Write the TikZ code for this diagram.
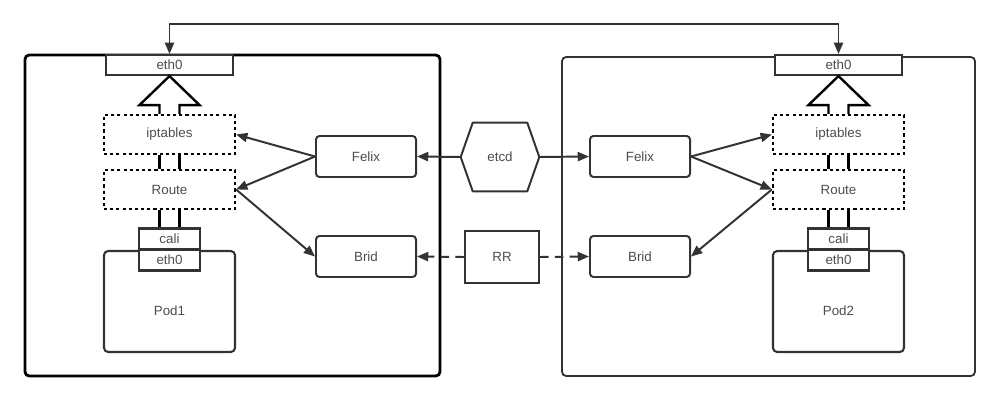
\documentclass[tikz,border=0pt]{standalone}
\usepackage{fontspec}
\setmainfont{Liberation Sans}
\usetikzlibrary{calc,positioning,arrows.meta}
\definecolor{linegray}{HTML}{333333}
\definecolor{textgray}{HTML}{4D4D4D}

\begin{document}
\begin{tikzpicture}[x=0.025cm, y=-0.025cm,
        >={Triangle[length=8pt,width=6.5pt]},
        every node/.style={inner sep=0pt, text=textgray, font=\fontsize{9.5}{11}\selectfont},
        conn/.style={draw=linegray, line width=1.4pt},
        box/.style={draw=linegray, line width=1.4pt, rounded corners=2.5pt, minimum width=2.5cm, minimum height=1.025cm},
        dotbox/.style={draw=black, line width=1.6pt, dash pattern=on 2.2pt off 2.2pt, minimum width=3.275cm, minimum height=0.975cm},
        ethbox/.style={draw=linegray, line width=1.5pt, fill=white, minimum width=3.175cm, minimum height=0.5cm},
        portbox/.style={draw=linegray, line width=1.5pt, fill=white, minimum width=1.525cm, minimum height=0.525cm},
        podbox/.style={draw=linegray, line width=1.5pt, rounded corners=3pt, minimum width=3.275cm, minimum height=2.525cm},
        hollow/.style={draw=black, line width=1.7pt, line join=miter}]
        \useasboundingbox (0,0) rectangle (1000,401);

        % Hosts
        \draw[black, line width=2pt, rounded corners=3pt] (25,55) rectangle (440,376);
        \draw[linegray, line width=1.3pt, rounded corners=3pt] (562,57) rectangle (975,376);

        % Stack of each host
        \foreach \s/\cx/\n in {L/169.5/1, R/838.5/2}{
            \node[ethbox] (eth\s) at (\cx,65) {eth0};
            \node[dotbox] (ipt\s) at (\cx,134.5) {iptables};
            \node[dotbox] (route\s) at (\cx,189.5) {Route};
            \node[podbox, label={[yshift=-0.225cm]center:Pod\n}] (pod\s) at (\cx,301.5) {};
            \node[portbox] (cali\s) at (\cx,239) {cali};
            \node[portbox] (peth\s) at (\cx,260) {eth0};
            \foreach \dx in {-10,10}{
                \draw[black, line width=1.8pt] ($(ipt\s.south)+(\dx,0)$) -- ($(route\s.north)+(\dx,0)$);
                \draw[black, line width=1.8pt] ($(route\s.south)+(\dx,0)$) -- ($(cali\s.north)+(\dx,0)$);
            }
            % hollow arrow up to eth0
            \draw[hollow] ($(ipt\s.north)+(-10,0)$) |- ($(eth\s.south)+(-30,29)$) -- (eth\s.south)
                -- ($(eth\s.south)+(30,29)$) -| ($(ipt\s.north)+(10,0)$);
        }

        % Middle
        \node[box] (felixL) at (366,156.5) {Felix};
        \node[box] (bridL) at (366,256.5) {Brid};
        \node[box] (felixR) at (640,156.5) {Felix};
        \node[box] (bridR) at (640,256.5) {Brid};
        \node[minimum width=1.95cm, minimum height=1.7cm] (etcd) at (500,157) {etcd};
        \draw[conn, line join=round] (etcd.west) -- ($(etcd.north west)+(12,0)$) -- ($(etcd.north east)+(-12,0)$)
            -- (etcd.east) -- ($(etcd.south east)+(-12,0)$) -- ($(etcd.south west)+(12,0)$) -- cycle;
        \node[box, sharp corners, line width=1.6pt, minimum width=1.85cm, minimum height=1.3cm] (rr) at (502,257) {RR};

        % Connectors
        \draw[conn, <->] (ethL.north) -- ++(0,-30) -| (ethR.north);
        \draw[conn, ->] (etcd.west) -- (felixL.east);
        \draw[conn, ->] (etcd.east) -- (felixR.west);
        \draw[conn, ->, dash pattern=on 6pt off 4.5pt] (rr.west) -- (bridL.east);
        \draw[conn, ->, dash pattern=on 6pt off 4.5pt] (rr.east) -- (bridR.west);
        \draw[conn, ->] (felixL.west) -- (iptL.east);
        \draw[conn, ->] (felixL.west) -- (routeL.east);
        \draw[conn, ->] (routeL.east) -- (bridL.west);
        \draw[conn, ->] (felixR.east) -- (iptR.west);
        \draw[conn, ->] (felixR.east) -- (routeR.west);
        \draw[conn, ->] (routeR.west) -- (bridR.east);
    \end{tikzpicture}
\end{document}
